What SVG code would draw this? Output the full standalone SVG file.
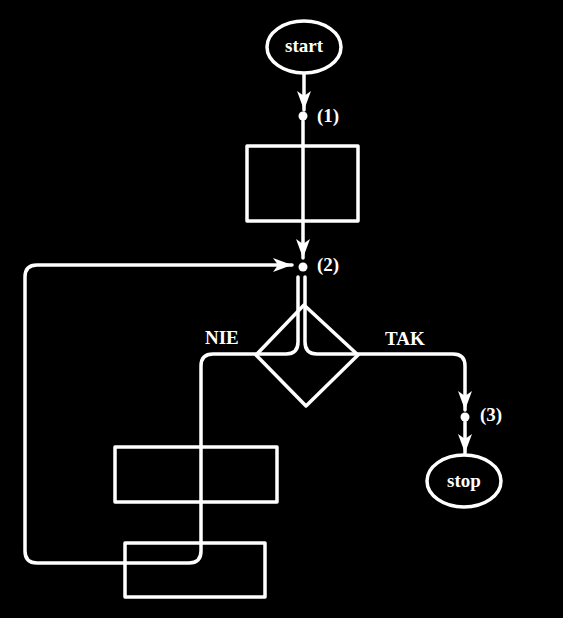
<svg xmlns="http://www.w3.org/2000/svg" width="563" height="618" viewBox="0 0 563 618">
<style>
.ln{fill:none;stroke:#fff;stroke-width:3.5;stroke-linejoin:round;stroke-linecap:round}
.dot{fill:#fff}
.t{fill:#fff;font-family:"Liberation Serif","Times New Roman",serif;font-weight:bold}
</style>
<defs>
<marker id="ah" markerUnits="userSpaceOnUse" markerWidth="20" markerHeight="14" viewBox="0 0 20 14" refX="19" refY="7" orient="auto">
<path d="M0,0 L19,7 L0,14 L5,7 z" fill="#fff"/>
</marker>
</defs>
<rect width="563" height="618" fill="#000"/>
<g id="connectors">
<path class="ln" d="M304,74 V110" marker-end="url(#ah)"/>
<path class="ln" d="M303,121 V258" marker-end="url(#ah)"/>
<path class="ln" d="M298,277 V342 Q298,354 286,354 H213 Q201,354 201,366 V551 Q201,563 189,563 H37 Q25,563 25,551 V277 Q25,265 37,265 H292" marker-end="url(#ah)"/>
<path class="ln" d="M305,277 V342 Q305,354 317,354 H453 Q465,354 465,366 V410" marker-end="url(#ah)"/>
<path class="ln" d="M465,422 V453" marker-end="url(#ah)"/>
</g>
<g id="start">
<ellipse class="ln" cx="304" cy="47" rx="37" ry="26"/>
<text class="t" x="304" y="52" font-size="19" text-anchor="middle">start</text>
</g>
<g id="p1">
<circle class="dot" cx="303" cy="116" r="4.5"/>
<text class="t" x="317" y="122" font-size="19">(1)</text>
</g>
<g id="box1">
<rect class="ln" x="247" y="146" width="111" height="75"/>
</g>
<g id="p2">
<circle class="dot" cx="303" cy="267" r="4.5"/>
<text class="t" x="317" y="271" font-size="19">(2)</text>
</g>
<g id="decision">
<polygon class="ln" points="256,355 304,305 358,355 306,406"/>
<text class="t" x="205" y="344" font-size="19">NIE</text>
<text class="t" x="385" y="345" font-size="19">TAK</text>
</g>
<g id="p3">
<circle class="dot" cx="465" cy="417" r="4.5"/>
<text class="t" x="480" y="421" font-size="19">(3)</text>
</g>
<g id="stop">
<ellipse class="ln" cx="464" cy="481" rx="37" ry="26"/>
<text class="t" x="464" y="487" font-size="19" text-anchor="middle">stop</text>
</g>
<g id="box2">
<rect class="ln" x="115" y="447" width="162" height="55"/>
</g>
<g id="box3">
<rect class="ln" x="125" y="543" width="140" height="54"/>
</g>
</svg>
